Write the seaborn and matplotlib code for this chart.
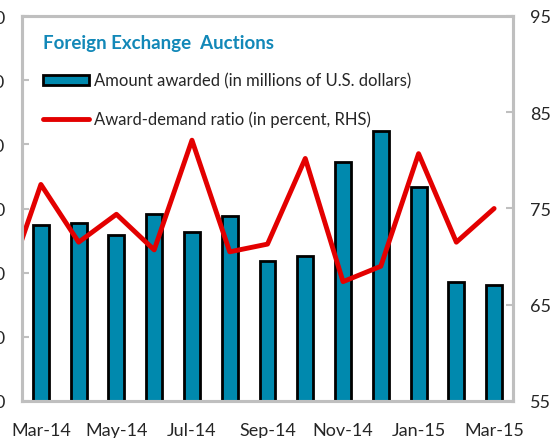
import numpy as np
import pandas as pd
import matplotlib
matplotlib.use('Agg')
import matplotlib.pyplot as plt
import seaborn as sns
from matplotlib.patches import Patch
from matplotlib.lines import Line2D

# ---------------------------------------------------------
# data
# ---------------------------------------------------------
months = ['Mar-14', 'Apr-14', 'May-14', 'Jun-14', 'Jul-14', 'Aug-14', 'Sep-14',
          'Oct-14', 'Nov-14', 'Dec-14', 'Jan-15', 'Feb-15', 'Mar-15']
amount = [274, 277, 259, 291, 263, 288, 218, 226, 372, 421, 333, 185, 181]
# ratio series starts one month earlier (Feb-14), clipped at the left edge
ratio_months = ['Feb-14'] + months
ratio = [66.1, 77.5, 71.5, 74.4, 70.7, 82.1, 70.5, 71.3, 80.2, 67.4, 69.0, 80.7, 71.5, 75.0]

left_ticks = [0, 100, 200, 300, 400, 500, 600]
right_ticks = [55, 65, 75, 85, 95]

BAR = '#0089AE'
RED = '#E30000'
GREY = '#BFBFBF'
TITLE = '#1288B8'

sns.set_style('white')
plt.rcParams['font.family'] = ['Lato', 'DejaVu Sans']

df = pd.DataFrame({'month': months, 'amount': amount})
line_df = pd.DataFrame({'pos': np.arange(len(ratio)) - 1, 'ratio': ratio})

fig = plt.figure(figsize=(5.53, 4.39), dpi=100)
ax = fig.add_axes([22 / 553, 1 - 402 / 439, (513 - 22) / 553, (402 - 17) / 439])

sns.barplot(data=df, x='month', y='amount', ax=ax, color=BAR, width=0.42,
            edgecolor='black', linewidth=2, saturation=1)
ax.set_xlim(-0.5, len(months) - 0.5)
ax.set_ylim(0, 600)
ax.set_yticks(left_ticks)
ax.set_xlabel('')
ax.set_ylabel('')

ax2 = ax.twinx()
sns.lineplot(data=line_df, x='pos', y='ratio', ax=ax2, color=RED, linewidth=3.5)
ax2.set_ylim(55, 95)
ax2.set_yticks(right_ticks)
ax2.set_ylabel('')
ax2.set_xlim(-0.5, len(months) - 0.5)

# x ticks: labels every other month, small marks between pairs
ax.set_xticks(range(0, len(months), 2))
ax.set_xticklabels(months[::2])
ax.set_xticks(np.arange(1.5, len(months) - 1, 2), minor=True)
ax.tick_params(axis='x', which='major', length=0, pad=15, labelsize=13)
ax.tick_params(axis='x', which='minor', direction='in', length=5, width=1.5, color=GREY)
ax.tick_params(axis='y', direction='in', length=5, width=1.5, color=GREY, pad=12, labelsize=13)
ax2.tick_params(axis='y', direction='in', length=5, width=1.5, color=GREY, pad=12, labelsize=13)
ax2.tick_params(axis='x', which='both', length=0)

for a in (ax, ax2):
    for s in a.spines.values():
        s.set_color(GREY)
        s.set_linewidth(2.2)

handles = [Patch(facecolor=BAR, edgecolor='black', linewidth=2),
           Line2D([0], [0], color=RED, linewidth=3.5)]
labels = ['Amount awarded (in millions of U.S. dollars)',
          'Award-demand ratio (in percent, RHS)']
leg = ax2.legend(handles, labels, loc='upper left', bbox_to_anchor=(0.025, 0.975),
                 frameon=False, fontsize=12, title='Foreign Exchange  Auctions',
                 alignment='left', handlelength=2.8, handleheight=0.55,
                 handletextpad=0.3, labelspacing=1.3, borderpad=0,
                 title_fontproperties={'weight': 'bold', 'size': 13.5})
leg.get_title().set_color(TITLE)

fig.savefig('out.png', dpi=100)
